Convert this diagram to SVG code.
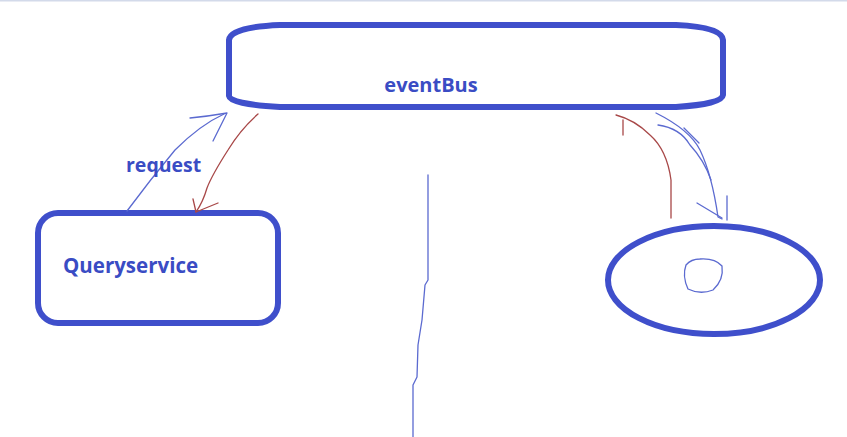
<svg xmlns="http://www.w3.org/2000/svg" width="847" height="437" viewBox="0 0 847 437">
<style>
.node{fill:none;stroke:#3F4FCB;stroke-width:6}
.lbl{font-family:"Open Sans","Noto Sans",sans-serif;font-weight:bold;fill:#3A4CC4}
.pen{fill:none;stroke:#5B6AD0;stroke-width:1.3;stroke-linecap:round;stroke-linejoin:round}
.red{fill:none;stroke:#A84848;stroke-width:1.3;stroke-linecap:round;stroke-linejoin:round}
</style>
<rect width="847" height="437" fill="#ffffff"/>
<rect x="0" y="0" width="847" height="1.5" fill="#D3DAEA"/>
<g id="eventBus">
<path class="node" d="M280,25 L676,25 Q722,27 723,40 L723,95 Q722,104 676,107 L280,107 Q230,104 229,96 L229,40 Q230,27 280,25 Z"/>
<text class="lbl" x="431" y="92" font-size="20" text-anchor="middle">eventBus</text>
</g>
<g id="Queryservice">
<rect class="node" x="38" y="213" width="240" height="110" rx="20" ry="20"/>
<text class="lbl" x="63" y="273" font-size="20.5">Queryservice</text>
</g>
<g id="node3">
<ellipse class="node" cx="714" cy="280" rx="106" ry="54"/>
<path class="pen" d="M700,259 Q715,258 722,266 Q724,280 713,290 Q700,295 688,289 Q682,276 686,265 Q691,259 700,259"/>
</g>
<g id="connectors">
<path class="pen" d="M127,211 Q150,180 175,150 Q200,125 224,114"/>
<path class="pen" d="M190,118 Q210,116 227,113 L213,141"/>
<text class="lbl" x="126" y="172" font-size="19.5">request</text>
<path class="red" d="M258,114 Q240,130 228,150 Q212,175 207,188 Q203,202 196,212"/>
<path class="red" d="M193,199 L196,212 L218,203"/>
<path class="red" d="M671,218 L671,180 Q667,150 650,135 Q635,120 616,115"/>
<path class="red" d="M623,120 L623,135"/>
<path class="pen" d="M656,113 Q690,130 700,150 Q712,175 718,217 L722,219"/>
<path class="pen" d="M658,125 Q680,128 690,145 Q704,160 711,180"/>
<path class="pen" d="M684,128 L699,143"/>
<path class="pen" d="M697,203 L722,218"/>
<path class="pen" d="M727,196 L727,220"/>
<path class="pen" d="M428,175 L428,280 L425,285 L422,320 L418,345 L417,377 L413,385 L413,437"/>
</g>
</svg>
